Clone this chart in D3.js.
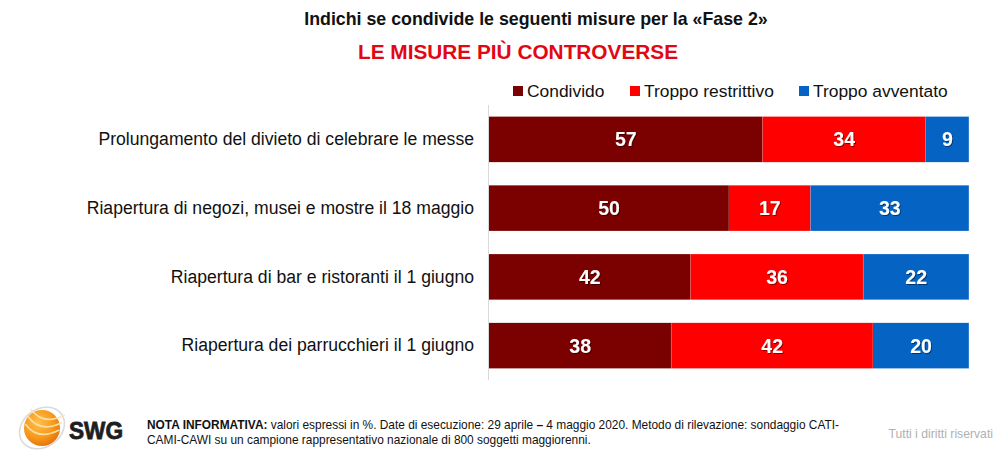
<!DOCTYPE html>
<html><head><meta charset="utf-8">
<script src="https://cdn.jsdelivr.net/npm/d3@7/dist/d3.min.js"></script>
<style>body{margin:0;background:#fff;}svg{display:block;font-family:"Liberation Sans",Arial,sans-serif;}</style>
</head><body>
<svg id="c" width="1002" height="456"></svg>
<script>
const categories = [
  "Prolungamento del divieto di celebrare le messe",
  "Riapertura di negozi, musei e mostre il 18 maggio",
  "Riapertura di bar e ristoranti il 1 giugno",
  "Riapertura dei parrucchieri il 1 giugno"
];
const seriesNames = ["Condivido", "Troppo restrittivo", "Troppo avventato"];
const condivido = [57, 50, 42, 38];
const restrittivo = [34, 17, 36, 42];
const avventato = [9, 33, 22, 20];
const colors = ["#7b0000", "#ff0000", "#0563c4"];

const svg = d3.select("#c");
const data = categories.map((c, i) => ({cat: c, Condivido: condivido[i], "Troppo restrittivo": restrittivo[i], "Troppo avventato": avventato[i]}));
const stack = d3.stack().keys(seriesNames)(data);

const x = d3.scaleLinear().domain([0, 100]).range([489, 969]);
const y = d3.scaleBand().domain(categories).range([105, 380]).paddingInner(0.338).paddingOuter(0.169);
const color = d3.scaleOrdinal().domain(seriesNames).range(colors);

// Titles
svg.append("text").attr("x", 536).attr("y", 25).attr("text-anchor", "middle")
  .attr("font-size", 17.8).attr("font-weight", "bold").attr("fill", "#111")
  .text("Indichi se condivide le seguenti misure per la «Fase 2»");
svg.append("text").attr("x", 518).attr("y", 59).attr("text-anchor", "middle")
  .attr("font-size", 20.8).attr("font-weight", "bold").attr("fill", "#e30613")
  .text("LE MISURE PIÙ CONTROVERSE");

// Legend
const legX = [513, 630, 799];
seriesNames.forEach((s, i) => {
  const g = svg.append("g").attr("transform", `translate(${legX[i]},97)`);
  g.append("rect").attr("x", 0).attr("y", -11).attr("width", 10).attr("height", 10).attr("fill", color(s));
  g.append("text").attr("x", 14).attr("y", 0).attr("font-size", 17.4).attr("fill", "#111").text(s);
});

// Axis line
svg.append("line").attr("x1", 488.5).attr("x2", 488.5).attr("y1", 105).attr("y2", 380)
  .attr("stroke", "#d9d9d9").attr("stroke-width", 1);

// Category labels
const yAxis = d3.axisLeft(y).tickSize(0).tickPadding(14);
const ag = svg.append("g").attr("transform", "translate(488,0)").call(yAxis);
ag.select(".domain").remove();
ag.selectAll("text").attr("font-size", 17.6).attr("fill", "#111").attr("font-family", "Liberation Sans, Arial, sans-serif");

// Bars
const defs = svg.append("defs");
const f = defs.append("filter").attr("id", "sh").attr("x", "-20%").attr("y", "-20%").attr("width", "140%").attr("height", "140%");
f.append("feDropShadow").attr("dx", 1).attr("dy", 1).attr("stdDeviation", 0.6).attr("flood-color", "#000").attr("flood-opacity", 0.45);

stack.forEach(layer => {
  const g = svg.append("g");
  g.selectAll("rect").data(layer).join("rect")
    .attr("x", d => x(d[0])).attr("width", d => x(d[1]) - x(d[0]))
    .attr("y", d => y(d.data.cat)).attr("height", y.bandwidth())
    .attr("fill", color(layer.key));
  g.selectAll("line.sep").data(layer).join("line")
    .attr("x1", d => x(d[1])).attr("x2", d => x(d[1]))
    .attr("y1", d => y(d.data.cat)).attr("y2", d => y(d.data.cat) + y.bandwidth())
    .attr("stroke", "rgba(255,255,255,0.35)").attr("stroke-width", 1);
  g.selectAll("text").data(layer).join("text")
    .attr("x", d => (x(d[0]) + x(d[1])) / 2)
    .attr("y", d => y(d.data.cat) + y.bandwidth() / 2 + 7)
    .attr("text-anchor", "middle").attr("font-size", 19.5).attr("font-weight", "bold")
    .attr("fill", "#fff").attr("filter", "url(#sh)")
    .text(d => d[1] - d[0]);
});

// Logo
const logo = svg.append("g").attr("transform", "translate(42,428)");
const grad = defs.append("radialGradient").attr("id", "og").attr("cx", "40%").attr("cy", "35%").attr("r", "70%");
grad.append("stop").attr("offset", "0%").attr("stop-color", "#ffc04a");
grad.append("stop").attr("offset", "60%").attr("stop-color", "#f79a1c");
grad.append("stop").attr("offset", "100%").attr("stop-color", "#e46f0a");
logo.append("ellipse").attr("rx", 24).attr("ry", 19).attr("transform", "rotate(-35)")
  .attr("fill", "none").attr("stroke", "#dadada").attr("stroke-width", 1.5);
logo.append("circle").attr("r", 18).attr("fill", "url(#og)");
[-8, 0, 8].forEach(o => {
  logo.append("path").attr("d", `M${-17},${o - 6} Q0,${o + 6} 17,${o - 12}`)
    .attr("transform", "rotate(20)")
    .attr("fill", "none").attr("stroke", "#ffe2b0").attr("stroke-width", 1.6).attr("opacity", 0.9);
});
svg.append("text").attr("x", 69).attr("y", 439).attr("font-size", 24).attr("font-weight", "bold")
  .attr("fill", "#1e1e1e").attr("stroke", "#1e1e1e").attr("stroke-width", 0.8)
  .attr("textLength", 54).attr("lengthAdjust", "spacingAndGlyphs").text("SWG");

// Note
const note = svg.append("text").attr("font-size", 11.9).attr("fill", "#111");
const l1 = note.append("tspan").attr("x", 147).attr("y", 429);
l1.append("tspan").attr("font-weight", "bold").text("NOTA INFORMATIVA:");
l1.append("tspan").text(" valori espressi in %. Date di esecuzione: 29 aprile ");
l1.append("tspan").attr("font-weight", "bold").text("\u2013");
l1.append("tspan").text(" 4 maggio 2020. Metodo di rilevazione: sondaggio CATI-");
note.append("tspan").attr("x", 147).attr("y", 444).text("CAMI-CAWI su un campione rappresentativo nazionale di 800 soggetti maggiorenni.");

svg.append("text").attr("x", 993).attr("y", 438).attr("text-anchor", "end")
  .attr("font-size", 12.2).attr("fill", "#b0b0b0").text("Tutti i diritti riservati");
</script>
</body></html>
